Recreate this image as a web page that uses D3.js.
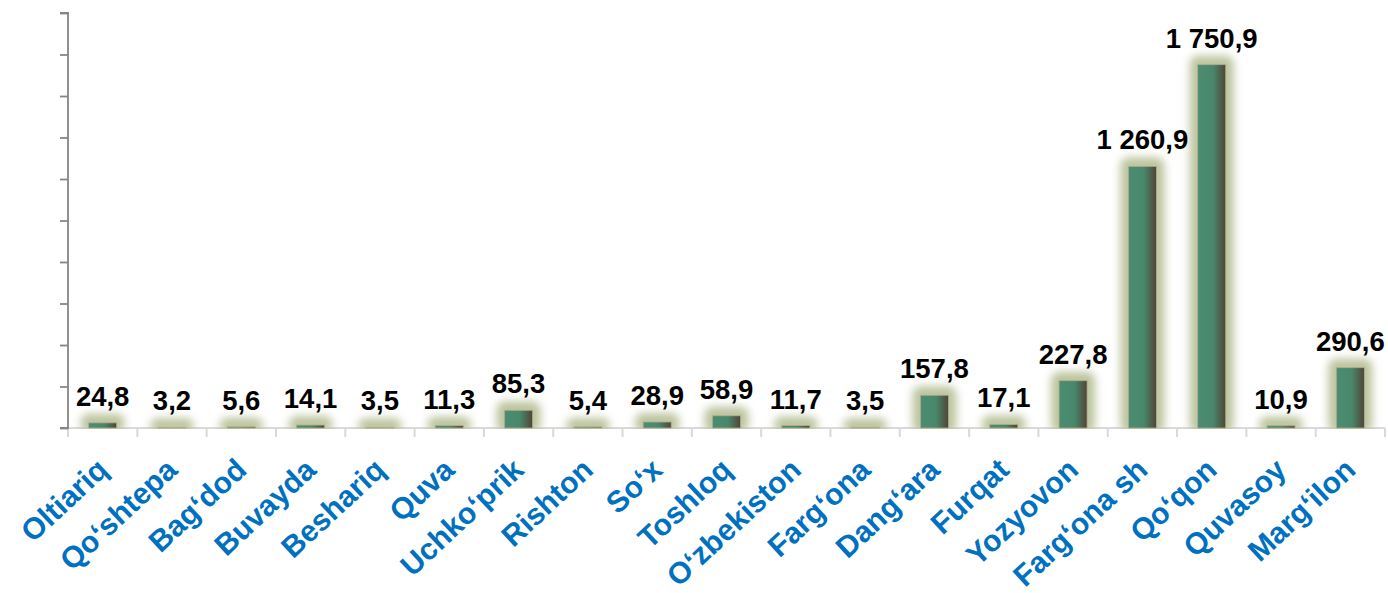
<!DOCTYPE html>
<html lang="uz">
<head>
<meta charset="UTF-8">
<title>Chart</title>
<script src="https://d3js.org/d3.v7.min.js"></script>
<style>
  body { margin: 0; background: #fff; }
  svg { display: block; font-family: Arial, "Liberation Sans", sans-serif; }
  .val { font-weight: bold; font-size: 27.5px; fill: #000; }
  .cat { font-weight: bold; font-size: 30px; fill: #0070c0; }
</style>
</head>
<body>
<svg width="1388" height="593"></svg>
<script>
// data
const districts = ["Oltiariq", "Qo\u02BBshtepa", "Bag\u02BBdod", "Buvayda", "Beshariq", "Quva",
  "Uchko\u02BBprik", "Rishton", "So\u02BBx", "Toshloq", "O\u02BBzbekiston", "Farg\u02BBona",
  "Dang\u02BBara", "Furqat", "Yozyovon", "Farg\u02BBona sh", "Qo\u02BBqon", "Quvasoy", "Marg\u02BBilon"];
const values = [24.8, 3.2, 5.6, 14.1, 3.5, 11.3, 85.3, 5.4, 28.9, 58.9, 11.7, 3.5,
  157.8, 17.1, 227.8, 1260.9, 1750.9, 10.9, 290.6];
const yTicks = [0, 200, 400, 600, 800, 1000, 1200, 1400, 1600, 1800, 2000];

const svg = d3.select("svg");
const plotLeft = 68, plotRight = 1385, plotTop = 13, plotBottom = 428;

const x = d3.scaleBand().domain(districts).range([plotLeft, plotRight]);
const y = d3.scaleLinear().domain([0, 2000]).range([plotBottom, plotTop]);

const fmt = d3.formatLocale({ decimal: ",", thousands: " ", grouping: [3], currency: ["", ""] }).format(",.1f");

const defs = svg.append("defs");
const grad = defs.append("linearGradient").attr("id", "barGrad")
  .attr("x1", "0%").attr("x2", "100%").attr("y1", "0%").attr("y2", "0%");
grad.append("stop").attr("offset", "0%").attr("stop-color", "#4b8d72");
grad.append("stop").attr("offset", "55%").attr("stop-color", "#49876c");
grad.append("stop").attr("offset", "100%").attr("stop-color", "#4f4536");

defs.append("filter").attr("id", "glow")
  .attr("x", "-50%").attr("y", "-50%").attr("width", "200%").attr("height", "200%")
  .append("feGaussianBlur").attr("stdDeviation", 4);

defs.append("clipPath").attr("id", "plotClip")
  .append("rect").attr("x", 0).attr("y", 0).attr("width", 1388).attr("height", plotBottom + 1);

// x axis (light)
const xAxis = svg.append("g");
xAxis.append("line")
  .attr("x1", plotLeft).attr("x2", plotRight).attr("y1", plotBottom).attr("y2", plotBottom)
  .attr("stroke", "#d9d9d9").attr("stroke-width", 2);
xAxis.selectAll(".xt").data(d3.range(districts.length + 1)).enter().append("line")
  .attr("x1", i => plotLeft + i * x.step()).attr("x2", i => plotLeft + i * x.step())
  .attr("y1", plotBottom).attr("y2", plotBottom + 9)
  .attr("stroke", "#d9d9d9").attr("stroke-width", 2);

// y axis
const yAxis = svg.append("g")
  .attr("transform", `translate(${plotLeft},0)`)
  .call(d3.axisLeft(y).tickValues(yTicks).tickSize(8).tickFormat(""));
yAxis.select(".domain").attr("stroke", "#868686").attr("stroke-width", 1.8)
  .attr("d", `M-8,${plotTop}H0V${plotBottom}H-8`);
yAxis.selectAll(".tick line").attr("stroke", "#868686").attr("stroke-width", 1.8);

const bw = 28;
const rows = districts.map((d, i) => ({ name: d, value: values[i] }));

// glow behind bars
svg.append("g").attr("clip-path", "url(#plotClip)")
  .selectAll("rect").data(rows).enter().append("rect")
  .attr("x", d => x(d.name) + x.bandwidth() / 2 - bw / 2 - 8)
  .attr("y", d => y(d.value) - 9)
  .attr("width", bw + 16)
  .attr("height", d => plotBottom - y(d.value) + 14)
  .attr("rx", 8)
  .attr("fill", "#bcc49f")
  .attr("filter", "url(#glow)");

// bars
svg.append("g").selectAll("rect").data(rows).enter().append("rect")
  .attr("x", d => x(d.name) + x.bandwidth() / 2 - bw / 2)
  .attr("y", d => y(d.value))
  .attr("width", bw)
  .attr("height", d => plotBottom - y(d.value))
  .attr("fill", "url(#barGrad)")
  .attr("stroke", "#b3ab8c").attr("stroke-width", 0.8);

// value labels
svg.append("g").selectAll("text").data(rows).enter().append("text")
  .attr("class", "val")
  .attr("x", d => x(d.name) + x.bandwidth() / 2)
  .attr("y", d => y(d.value) - 17)
  .attr("text-anchor", "middle")
  .text(d => fmt(d.value));

// category labels
svg.append("g").selectAll("text").data(rows).enter().append("text")
  .attr("class", "cat")
  .attr("text-anchor", "end")
  .attr("transform", d => `translate(${x(d.name) + x.bandwidth() / 2 + 7},${plotBottom + 44}) rotate(-43)`)
  .text(d => d.name);
</script>
</body>
</html>
